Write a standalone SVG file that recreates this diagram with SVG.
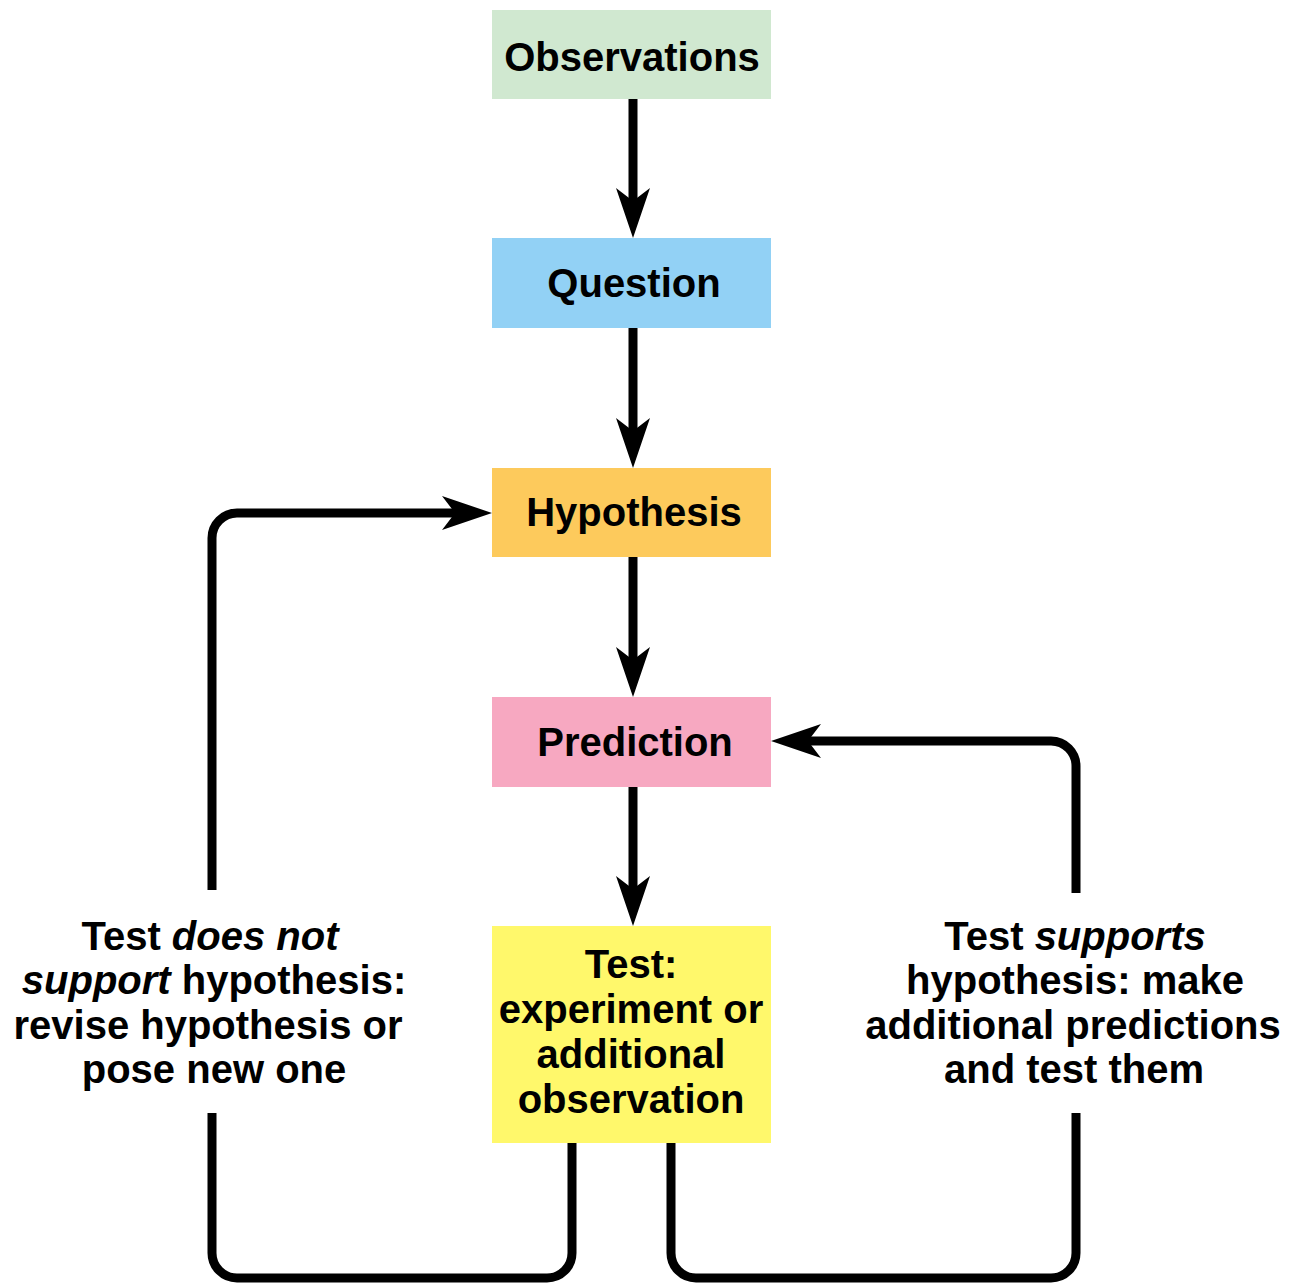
<svg xmlns="http://www.w3.org/2000/svg" width="1289" height="1284" viewBox="0 0 1289 1284">
<style>
text{font-family:"Liberation Sans",Arial,sans-serif;font-weight:bold;font-size:40px;fill:#000;text-anchor:middle}
.it{font-style:italic}
.conn{fill:none;stroke:#000;stroke-width:9;stroke-linejoin:round}
</style>
<defs>
<marker id="arr" markerUnits="userSpaceOnUse" viewBox="0 0 50 36" markerWidth="50" markerHeight="36" refX="20" refY="18" orient="auto" overflow="visible">
<path d="M0,1 L50,18 L0,35 L13,18 Z" fill="#000"/>
</marker>
</defs>
<rect width="1289" height="1284" fill="#fff"/>
<g id="connectors">
<path class="conn" d="M633,99 V208" marker-end="url(#arr)"/>
<path class="conn" d="M633,328 V438" marker-end="url(#arr)"/>
<path class="conn" d="M633,557 V667" marker-end="url(#arr)"/>
<path class="conn" d="M633,787 V896" marker-end="url(#arr)"/>
<path class="conn" d="M572,1143 V1253 A25,25 0 0 1 547,1278 H237 A25,25 0 0 1 212,1253 V1113"/>
<path class="conn" d="M212,890 V538 A25,25 0 0 1 237,513 H462" marker-end="url(#arr)"/>
<path class="conn" d="M671,1143 V1253 A25,25 0 0 0 696,1278 H1051 A25,25 0 0 0 1076,1253 V1113"/>
<path class="conn" d="M1076,893 V766 A25,25 0 0 0 1051,741 H801" marker-end="url(#arr)"/>
</g>
<g id="observations">
<rect x="492" y="10" width="279" height="89" fill="#d0e8d0"/>
<text x="632" y="71">Observations</text>
</g>
<g id="question">
<rect x="492" y="238" width="279" height="90" fill="#92d1f5"/>
<text x="634" y="297">Question</text>
</g>
<g id="hypothesis">
<rect x="492" y="468" width="279" height="89" fill="#fdca5c"/>
<text x="634" y="526">Hypothesis</text>
</g>
<g id="prediction">
<rect x="492" y="697" width="279" height="90" fill="#f7a8c1"/>
<text x="635" y="756">Prediction</text>
</g>
<g id="test">
<rect x="492" y="926" width="279" height="217" fill="#fff86b"/>
<text x="631" y="978">Test:</text>
<text x="631" y="1023">experiment or</text>
<text x="631" y="1068">additional</text>
<text x="631" y="1113">observation</text>
</g>
<g id="label-not-support">
<text x="210" y="950">Test <tspan class="it">does not</tspan></text>
<text x="214" y="994"><tspan class="it">support</tspan> hypothesis:</text>
<text x="208" y="1039">revise hypothesis or</text>
<text x="214" y="1083">pose new one</text>
</g>
<g id="label-supports">
<text x="1075" y="950">Test <tspan class="it">supports</tspan></text>
<text x="1075" y="994">hypothesis: make</text>
<text x="1073" y="1039">additional predictions</text>
<text x="1074" y="1083">and test them</text>
</g>
</svg>
